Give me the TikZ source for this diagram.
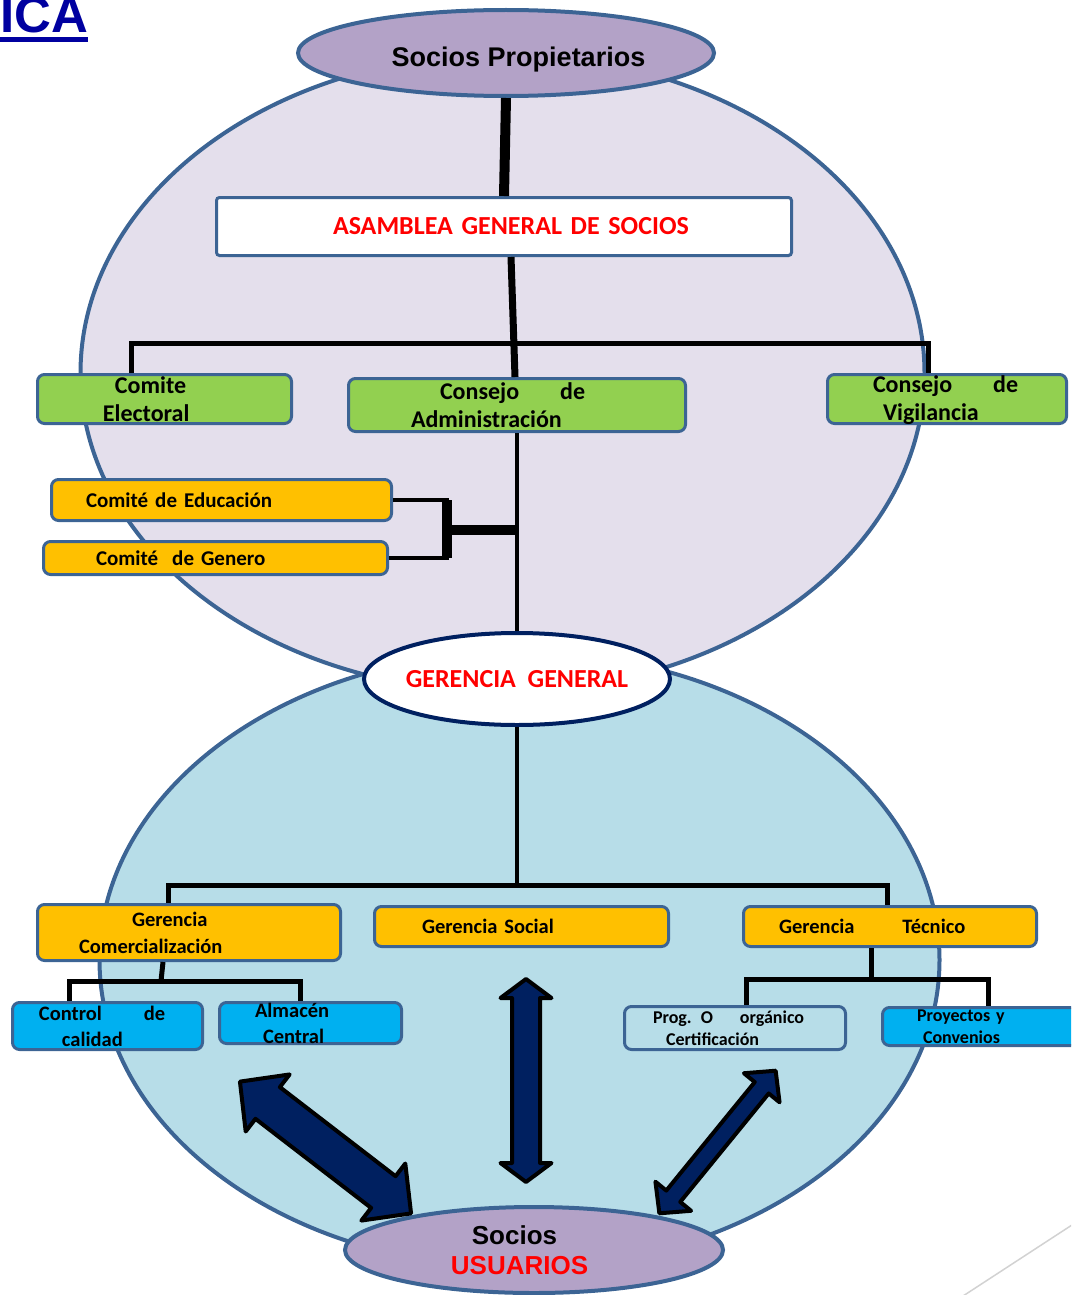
\documentclass[tikz,border=0pt]{standalone}
\usepackage{fontspec}
\usepackage{tikz}
\usetikzlibrary{shapes.geometric}
\setmainfont{Carlito}
\newfontfamily\arialfont{Liberation Sans}
\definecolor{lila}{RGB}{228,223,236}
\definecolor{celeste}{RGB}{183,221,232}
\definecolor{borde}{RGB}{60,100,148}
\definecolor{morado}{RGB}{179,162,199}
\definecolor{verde}{RGB}{146,208,80}
\definecolor{amarillo}{RGB}{255,192,0}
\definecolor{cian}{RGB}{0,176,240}
\definecolor{marino}{RGB}{0,32,96}
\definecolor{rojo}{RGB}{255,0,0}
\definecolor{azultit}{RGB}{0,0,160}

% cx, cy, angle, half length, shaft half, head half, head length
\newcommand{\flechadoble}[7]{%
  \filldraw[flecha,shift={(#1,#2)},rotate=#3]
    (-#4,0) -- (-#4+#7,#6) -- (-#4+#7,#5) -- (#4-#7,#5) -- (#4-#7,#6) -- (#4,0)
    -- (#4-#7,-#6) -- (#4-#7,-#5) -- (-#4+#7,-#5) -- (-#4+#7,-#6) -- cycle;}

\begin{document}
\begin{tikzpicture}[x=1pt,y=-1pt,
    caja/.style={draw=borde,line width=3pt,rounded corners=7pt,inner sep=0pt,align=left},
    cajaverde/.style={caja,fill=verde,font=\bfseries\fontsize{24}{28}\selectfont},
    cajaamarilla/.style={caja,fill=amarillo,font=\bfseries\fontsize{20.5}{27}\selectfont},
    cajaazul/.style={caja,fill=cian,font=\bfseries\fontsize{20.5}{26}\selectfont},
    cajachica/.style={caja,font=\bfseries\fontsize{18}{22}\selectfont},
    linea/.style={line width=5pt},
    elipse/.style={ellipse,draw=borde,line width=4pt,inner sep=0pt},
    flecha/.style={fill=marino,draw=black,line width=4pt,line join=round}]
  \clip (0,0) rectangle (1071,1295);

  % fondos
  \filldraw[fill=celeste,draw=borde,line width=4pt] (519.5,960) ellipse [x radius=420pt, y radius=308pt];
  \filldraw[fill=lila,draw=borde,line width=4pt] (502.5,373) ellipse [x radius=422pt, y radius=319pt];

  % titulo
  \node[anchor=base west,inner sep=0pt,text=azultit,font=\arialfont\bfseries\fontsize{51}{51}\selectfont] (ica) at (0,33) {ICA};
  \draw[azultit,line width=5pt] ([yshift=-7pt]ica.base west) -- ([yshift=-7pt]ica.base east);

  % parte superior
  \node[elipse,fill=morado,minimum width=416,minimum height=86,text height=28pt,text depth=0pt,
        font=\arialfont\bfseries\fontsize{27}{30}\selectfont] (sp) at (506,53) {\hspace*{25pt}Socios Propietarios};
  \node[caja,fill=white,rounded corners=3pt,text width=575,minimum height=58,text=rojo,
        font=\bfseries\fontsize{26}{30}\selectfont] (as) at (504,226.5) {\hspace*{116.5pt}ASAMBLEA GENERAL DE SOCIOS};
  \node[cajaverde,text width=254,minimum height=49] (ce) at (164.5,399)
    {\hspace*{77.5pt}Comite\\\hspace*{65.5pt}Electoral};
  \node[cajaverde,text width=337,minimum height=53] (ca) at (517,405)
    {\hspace*{91.5pt}Consejo\hspace{41pt}de\\\hspace*{62.5pt}Administración};
  \node[cajaverde,text width=239,minimum height=49,text depth=30pt] (cv) at (947,399)
    {\hspace*{45.5pt}Consejo\hspace{41pt}de\\\hspace*{55.5pt}Vigilancia};
  \node[cajaamarilla,font=\bfseries\fontsize{21}{27}\selectfont,text width=340,minimum height=41] (cedu) at (221.5,500)
    {\hspace*{34.5pt}Comité de Educación};
  \node[cajaamarilla,font=\bfseries\fontsize{21}{27}\selectfont,text width=344,minimum height=33] (cgen) at (215.5,558)
    {\hspace*{52.5pt}Comité~ de Genero};

  \node[elipse,fill=white,draw=marino,minimum width=306,minimum height=92,inner xsep=-8pt,text=rojo,
        font=\bfseries\fontsize{26}{30}\selectfont] (gg) at (517,679) {GERENCIA~ GENERAL};

  \draw[line width=10pt] (sp.south) -- (as.north);
  \draw[line width=7pt] ([xshift=7pt]as.south) -- ([xshift=-2pt]ca.north);
  \coordinate (ha) at (131,343);
  \coordinate (hb) at (928,343);
  \draw[linea] (ce.north -| ha) -- (ha) -- (hb) -- (cv.north -| hb);
  \draw[line width=4pt] (ca.south) -- (gg.north);
  \coordinate (br) at (447,530);
  \draw[line width=4pt] (cedu.east) -| (br) |- (cgen.east);
  \draw[line width=10pt] (br |- cedu.east) -- (br |- cgen.east);
  \draw[line width=10pt] (br) -- (br -| ca.south);

  % parte inferior
  \node[cajaamarilla,text width=303,minimum height=56] (gc) at (189,932.5)
    {\hspace*{94.5pt}Gerencia\\\hspace*{41.5pt}Comercialización};
  \node[cajaamarilla,text width=294,minimum height=40] (gs) at (521.5,926.5)
    {\hspace*{47.5pt}Gerencia Social};
  \node[cajaamarilla,text width=293,minimum height=40] (gt) at (890,926.5)
    {\hspace*{35.5pt}Gerencia\hspace{48pt}Técnico};
  \node[cajaazul,text width=190,minimum height=47] (cc) at (107.5,1026)
    {\hspace*{26.5pt}Control\hspace{42pt}de\\\hspace*{49.5pt}calidad};
  \node[cajaazul,text width=182,minimum height=41] (ac) at (310.5,1023)
    {\hspace*{35.5pt}Almacén\\\hspace*{43.5pt}Central};
  \node[cajachica,fill=celeste,text width=221,minimum height=43] (po) at (735,1028)
    {\hspace*{28.5pt}Prog. O\hspace{27pt}orgánico\\\hspace*{41.5pt}Certificación};
  \node[cajachica,fill=cian,text width=206,minimum height=38] (pc) at (985.5,1026.5)
    {\hspace*{34.5pt}Proyectos y\\\hspace*{40.5pt}Convenios};

  \coordinate (hc) at (168,885);
  \coordinate (hd) at (887,885);
  \draw[line width=4pt] (gg.south) -- (gg.south |- hc);
  \draw[linea] (gc.north -| hc) -- (hc) -- (hd) -- (gt.north -| hd);
  \coordinate (he) at (69,981);
  \coordinate (hf) at (300,981);
  \coordinate (hg) at (161,981);
  \draw[linea] ([xshift=-26pt]gc.south) -- (hg);
  \draw[linea] (cc.north -| he) -- (he) -- (hf) -- (ac.north -| hf);
  \coordinate (hh) at (746,979);
  \coordinate (hi) at (988,979);
  \draw[linea] ([xshift=-19pt]gt.south) -- ([xshift=-19pt]gt.south |- hh);
  \draw[linea] (po.north -| hh) -- (hh) -- (hi) -- (pc.north -| hi);

  \node[elipse,fill=morado,minimum width=378,minimum height=86,align=left,
        font=\arialfont\bfseries\fontsize{26}{30}\selectfont] (su) at (534,1250)
    {\hspace*{21pt}Socios\\\textcolor{rojo}{USUARIOS}\hspace*{29pt}};

  % flechas
  \flechadoble{526}{1080.5}{90}{101.5}{14}{25.5}{19}
  \flechadoble{325.5}{1147.5}{-37.6}{108}{20}{36}{35}
  \flechadoble{717.5}{1142}{50.8}{92}{9}{23}{22}

  \draw[gray!35,line width=1.5pt] (963,1296) -- (1075,1223);
\end{tikzpicture}
\end{document}
